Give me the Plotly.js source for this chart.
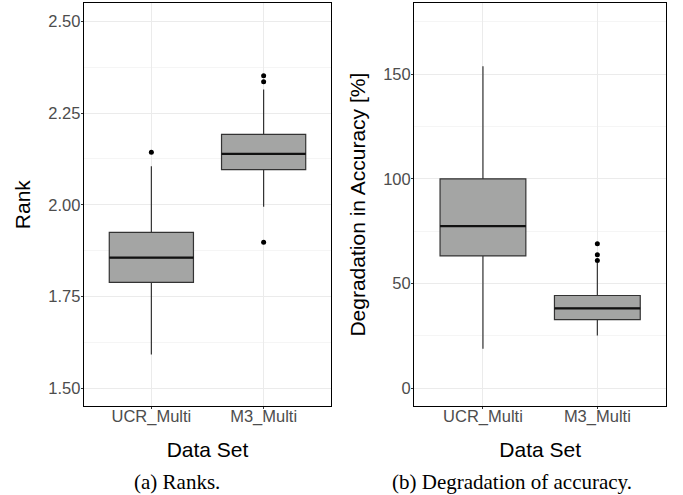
<!DOCTYPE html>
<html>
<head>
<meta charset="utf-8">
<script src="https://cdn.plot.ly/plotly-3.0.1.min.js"></script>
<style>html,body{margin:0;padding:0;background:#fff}#plot{width:683px;height:495px}</style>
</head>
<body>
<div id="plot"></div>
<script>
// ---- data ----
const categories = ["UCR_Multi", "M3_Multi"];

// (a) Ranks
const rankQ1 = [1.789, 2.096];
const rankMedian = [1.856, 2.139];
const rankQ3 = [1.925, 2.192];
const rankLowerFence = [1.592, 1.995];
const rankUpperFence = [2.105, 2.314];
const rankOutliersUCR = [2.143];
const rankOutliersM3 = [2.352, 2.335, 1.898];

// (b) Degradation in accuracy [%]
const degQ1 = [63.2, 32.8];
const degMedian = [77.4, 38.2];
const degQ3 = [100.0, 44.3];
const degLowerFence = [18.9, 25.2];
const degUpperFence = [153.7, 59.8];
const degOutliersUCR = [];
const degOutliersM3 = [69.0, 63.8, 61.0];

const rankTicks = [1.50, 1.75, 2.00, 2.25, 2.50];
const rankTickText = ["1.50", "1.75", "2.00", "2.25", "2.50"];
const degTicks = [0, 50, 100, 150];

// ---- styles ----
const pos = [1, 2];
const boxWidth = 0.75;
const fill = "#a4a5a4";
const edge = "#333333";
const tickFont = {family: "Liberation Sans, Arial, sans-serif", size: 16.5, color: "#4d4d4d"};
const titleFont = {family: "Liberation Sans, Arial, sans-serif", size: 21, color: "#000"};

function boxTrace(q1, med, q3, lf, uf, xa, ya) {
  return {
    type: "box", x: pos, q1: q1, median: med, q3: q3,
    lowerfence: lf, upperfence: uf, width: boxWidth, whiskerwidth: 0,
    fillcolor: fill, line: {color: edge, width: 1.2},
    boxpoints: false, hoverinfo: "skip", showlegend: false,
    xaxis: xa, yaxis: ya
  };
}
function medianTraces(med, xa, ya) {
  return med.map((m, i) => ({
    type: "scatter", mode: "lines",
    x: [pos[i] - boxWidth / 2, pos[i] + boxWidth / 2], y: [m, m],
    line: {color: "#111", width: 2.2}, hoverinfo: "skip", showlegend: false,
    xaxis: xa, yaxis: ya
  }));
}
function outlierTrace(vals, p, xa, ya) {
  return {
    type: "scatter", mode: "markers", x: vals.map(() => p), y: vals,
    marker: {color: "#000", size: 5}, hoverinfo: "skip", showlegend: false,
    xaxis: xa, yaxis: ya
  };
}

const traces = [
  boxTrace(rankQ1, rankMedian, rankQ3, rankLowerFence, rankUpperFence, "x", "y"),
  ...medianTraces(rankMedian, "x", "y"),
  outlierTrace(rankOutliersUCR, pos[0], "x", "y"),
  outlierTrace(rankOutliersM3, pos[1], "x", "y"),
  boxTrace(degQ1, degMedian, degQ3, degLowerFence, degUpperFence, "x2", "y2"),
  ...medianTraces(degMedian, "x2", "y2"),
  outlierTrace(degOutliersUCR, pos[0], "x2", "y2"),
  outlierTrace(degOutliersM3, pos[1], "x2", "y2")
];

function xAxis(domain, anchor) {
  return {
    domain: domain, anchor: anchor, range: [0.4, 2.6],
    tickmode: "array", tickvals: pos, ticktext: categories,
    showgrid: true, gridcolor: "#ebebeb", gridwidth: 1,
    zeroline: false, showline: true, mirror: true, linecolor: "#000", linewidth: 1.3,
    ticks: "outside", ticklen: 2, tickcolor: "#333", tickwidth: 1,
    ticklabelstandoff: -7,
    tickfont: tickFont,
    title: {text: "Data Set", font: titleFont, standoff: 17}
  };
}

const layout = {
  width: 683, height: 495,
  margin: {l: 0, r: 0, t: 0, b: 0},
  paper_bgcolor: "#fff", plot_bgcolor: "#fff",
  showlegend: false,
  xaxis: xAxis([0.1230, 0.4846], "y"),
  xaxis2: xAxis([0.6066, 0.9751], "y2"),
  yaxis: {
    domain: [0.1798, 0.9933], anchor: "x", range: [1.452, 2.549],
    tickmode: "array", tickvals: rankTicks, ticktext: rankTickText,
    showgrid: true, gridcolor: "#ebebeb", gridwidth: 1,
    minor: {tickmode: "array", tickvals: [1.625, 1.875, 2.125, 2.375], showgrid: true, gridcolor: "#f2f2f2", gridwidth: 0.8, ticks: ""},
    zeroline: false, showline: true, mirror: true, linecolor: "#000", linewidth: 1.3,
    ticks: "outside", ticklen: 2, tickcolor: "#333", tickwidth: 1,
    ticklabelstandoff: -3,
    tickfont: tickFont,
    title: {text: "Rank", font: titleFont, standoff: 12}
  },
  yaxis2: {
    domain: [0.1798, 0.9933], anchor: "x2", range: [-8.45, 183.8],
    tickmode: "array", tickvals: degTicks,
    showgrid: true, gridcolor: "#ebebeb", gridwidth: 1,
    minor: {tickmode: "array", tickvals: [25, 75, 125, 175], showgrid: true, gridcolor: "#f2f2f2", gridwidth: 0.8, ticks: ""},
    zeroline: false, showline: true, mirror: true, linecolor: "#000", linewidth: 1.3,
    ticks: "outside", ticklen: 2, tickcolor: "#333", tickwidth: 1,
    ticklabelstandoff: -3,
    tickfont: tickFont,
    title: {text: "Degradation in Accuracy [%]", font: titleFont, standoff: 11}
  },
  annotations: [
    {text: "(a) Ranks.", xref: "paper", yref: "paper", x: 176.8 / 683, y: (495 - 482) / 495,
     xanchor: "center", yanchor: "middle", showarrow: false,
     font: {family: "Liberation Serif, Times New Roman, serif", size: 21, color: "#000"}},
    {text: "(b) Degradation of accuracy.", xref: "paper", yref: "paper", x: 512 / 683, y: (495 - 482) / 495,
     xanchor: "center", yanchor: "middle", showarrow: false,
     font: {family: "Liberation Serif, Times New Roman, serif", size: 21, color: "#000"}}
  ]
};

Plotly.newPlot("plot", traces, layout, {staticPlot: true, displayModeBar: false});
</script>
</body>
</html>
